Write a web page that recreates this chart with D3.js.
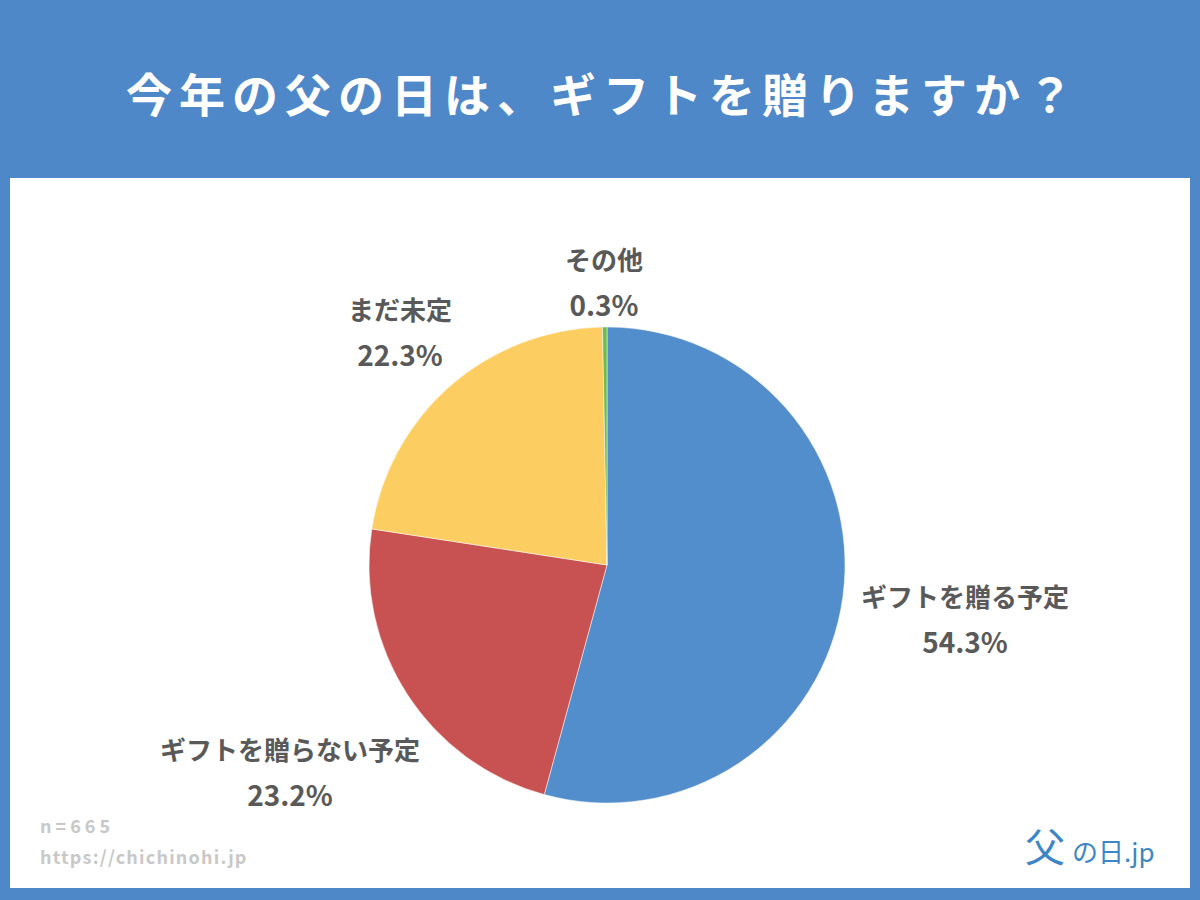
<!DOCTYPE html><html><head><meta charset="utf-8"><script src="https://cdn.jsdelivr.net/npm/d3@7"></script>
<style>body{margin:0}svg{display:block}</style></head><body><svg id="c" width="1200" height="900"></svg>
<script>
const categories=["ギフトを贈る予定","ギフトを贈らない予定","まだ未定","その他"];
const values=[54.3,23.2,22.3,0.3];
const colors=["#518ecb","#c85252","#fccd60","#6cbd4c"];
const svg=d3.select("#c");
const F="'Noto Sans CJK JP','Noto Sans',sans-serif";
svg.append("rect").attr("width",1200).attr("height",900).attr("fill","#4f88c8");
svg.append("rect").attr("x",10).attr("y",178).attr("width",1180).attr("height",710).attr("fill","#fff");
svg.append("text").attr("x",603).attr("y",112).attr("text-anchor","middle").attr("fill","#fff")
 .attr("font-family",F).attr("font-weight",700).attr("font-size",46).attr("letter-spacing",7).text("今年の父の日は、ギフトを贈りますか？");
const cx=607,cy=565,r=238;
const pie=d3.pie().sort(null)(values);
const arc=d3.arc().innerRadius(0).outerRadius(r);
const g=svg.append("g").attr("transform",`translate(${cx},${cy})`);
g.selectAll("path").data(pie).join("path").attr("d",arc).attr("fill",(d,i)=>colors[i]).attr("stroke","#fff").attr("stroke-width",0.5);
const lab=[[965,607],[290,760],[400,320],[604,270]];
lab.forEach((p,i)=>{
 const t=svg.append("text").attr("text-anchor","middle").attr("fill","#595959").attr("font-family",F).attr("font-weight",700).attr("font-size",26);
 t.append("tspan").attr("x",p[0]).attr("y",p[1]).text(categories[i]);
 t.append("tspan").attr("x",p[0]).attr("y",p[1]+46).attr("font-size",28).text(values[i].toFixed(1)+"%");
});
svg.append("text").attr("x",40).attr("y",833).attr("fill","#c8c8c8").attr("font-family",F).attr("font-weight",700).attr("font-size",18).attr("letter-spacing",4).text("n=665");
svg.append("text").attr("x",40).attr("y",864).attr("fill","#c8c8c8").attr("font-family",F).attr("font-weight",700).attr("font-size",18).attr("letter-spacing",1.2).text("https://chichinohi.jp");
svg.append("text").attr("x",1025).attr("y",862).attr("fill","#3d86c6").attr("font-family",F).attr("font-size",40).text("父");
svg.append("text").attr("x",1072).attr("y",862).attr("fill","#3d86c6").attr("font-family",F).attr("font-size",26).text("の日.jp");
</script></body></html>
